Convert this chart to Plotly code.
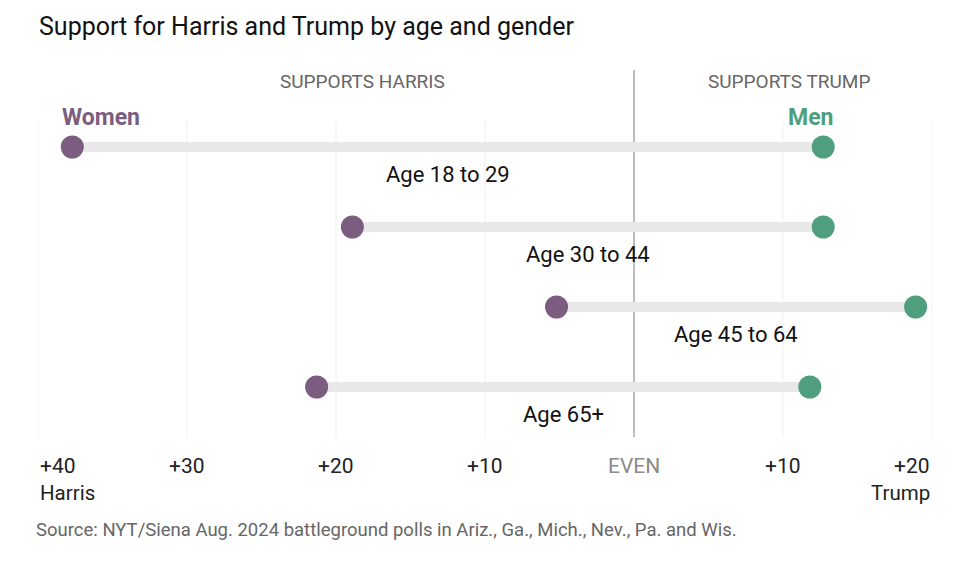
import plotly.graph_objects as go

age_groups = ["Age 18 to 29", "Age 30 to 44", "Age 45 to 64", "Age 65+"]
# margin: negative = Harris lead, positive = Trump lead
women_margin = [-37.7, -18.9, -5.2, -21.3]
men_margin = [12.7, 12.7, 18.9, 11.8]

tick_vals = [-40, -30, -20, -10, 0, 10, 20]
tick_text = ["+40", "+30", "+20", "+10", "EVEN", "+10", "+20"]

PURPLE = "#7b5d80"
GREEN = "#4f9e7e"
BAR = "#e8e8e8"
FONT = "Roboto, Arial, sans-serif"

L, R, T, B = 38, 28, 70, 131
W, H = 960, 568
PH = H - T - B


def px_y(py):
    return (H - B - py) / PH


def px_x(px):
    return (px - L) / (W - L - R)


fig = go.Figure()

for i, (w, m) in enumerate(zip(women_margin, men_margin)):
    fig.add_trace(go.Scatter(x=[w, m], y=[i, i], mode="lines",
                             line=dict(color=BAR, width=10),
                             hoverinfo="skip", showlegend=False))

fig.add_trace(go.Scatter(x=women_margin, y=list(range(len(age_groups))), mode="markers",
                         marker=dict(color=PURPLE, size=23), name="Women", showlegend=False))
fig.add_trace(go.Scatter(x=men_margin, y=list(range(len(age_groups))), mode="markers",
                         marker=dict(color=GREEN, size=23), name="Men", showlegend=False))

shapes = []
for v in tick_vals:
    if v == 0:
        shapes.append(dict(type="line", xref="x", yref="paper", x0=v, x1=v, y0=0, y1=1,
                           line=dict(color="#9a9a9a", width=1.3), layer="below"))
    else:
        shapes.append(dict(type="line", xref="x", yref="paper", x0=v, x1=v, y0=0, y1=0.86,
                           line=dict(color="#efefef", width=1), layer="below"))

annotations = []
# age labels under bar midpoints
for i, (w, m, lab) in enumerate(zip(women_margin, men_margin, age_groups)):
    annotations.append(dict(x=(w + m) / 2, y=i, xref="x", yref="y", text=lab,
                            showarrow=False, yshift=-27,
                            font=dict(size=22, color="#121212", family=FONT)))

# tick labels
for v, t in zip(tick_vals, tick_text):
    anchor = "center"
    if v == tick_vals[0]:
        anchor = "left"
    elif v == tick_vals[-1]:
        anchor = "right"
    color = "#8a8a8a" if v == 0 else "#222222"
    annotations.append(dict(x=v, y=0, xref="x", yref="paper", text=t, showarrow=False,
                            xanchor=anchor, yanchor="top", yshift=-15,
                            font=dict(size=21, color=color, family=FONT)))
annotations.append(dict(x=tick_vals[0], y=0, xref="x", yref="paper", text="Harris",
                        showarrow=False, xanchor="left", yanchor="top", yshift=-42,
                        font=dict(size=20.5, color="#222222", family=FONT)))
annotations.append(dict(x=tick_vals[-1], y=0, xref="x", yref="paper", text="Trump",
                        showarrow=False, xanchor="right", yanchor="top", yshift=-42,
                        font=dict(size=20.5, color="#222222", family=FONT)))

# headers
annotations.append(dict(x=-18.2, y=1, xref="x", yref="paper", text="SUPPORTS HARRIS",
                        showarrow=False, yanchor="middle", yshift=-11,
                        font=dict(size=19, color="#666666", family=FONT)))
annotations.append(dict(x=10.4, y=1, xref="x", yref="paper", text="SUPPORTS TRUMP",
                        showarrow=False, yanchor="middle", yshift=-11,
                        font=dict(size=19, color="#666666", family=FONT)))
annotations.append(dict(x=women_margin[0], y=0, xref="x", yref="y", text="<b>Women</b>",
                        showarrow=False, yshift=30, xanchor="left", xshift=-12,
                        font=dict(size=23, color=PURPLE, family=FONT)))
annotations.append(dict(x=men_margin[0], y=0, xref="x", yref="y", text="<b>Men</b>",
                        showarrow=False, yshift=30, xanchor="right", xshift=12,
                        font=dict(size=23, color=GREEN, family=FONT)))

# title and source
annotations.append(dict(x=px_x(37), y=px_y(27), xref="paper", yref="paper",
                        text="Support for Harris and Trump by age and gender",
                        showarrow=False, xanchor="left", yanchor="middle",
                        font=dict(size=25, color="#121212", family=FONT)))
annotations.append(dict(x=px_x(34), y=px_y(530), xref="paper", yref="paper",
                        text="Source: NYT/Siena Aug. 2024 battleground polls in Ariz., Ga., Mich., Nev., Pa. and Wis.",
                        showarrow=False, xanchor="left", yanchor="middle",
                        font=dict(size=18.5, color="#666666", family=FONT)))

fig.update_layout(
    width=W, height=H,
    margin=dict(l=L, r=R, t=T, b=B),
    paper_bgcolor="white", plot_bgcolor="white",
    xaxis=dict(range=[-40, 20], showgrid=False, zeroline=False, showticklabels=False,
               tickvals=tick_vals, ticks="", fixedrange=True),
    yaxis=dict(range=[3.625, -0.9625], showgrid=False, zeroline=False, showticklabels=False,
               fixedrange=True),
    shapes=shapes,
    annotations=annotations,
    showlegend=False,
)

fig.write_html("out.html")
